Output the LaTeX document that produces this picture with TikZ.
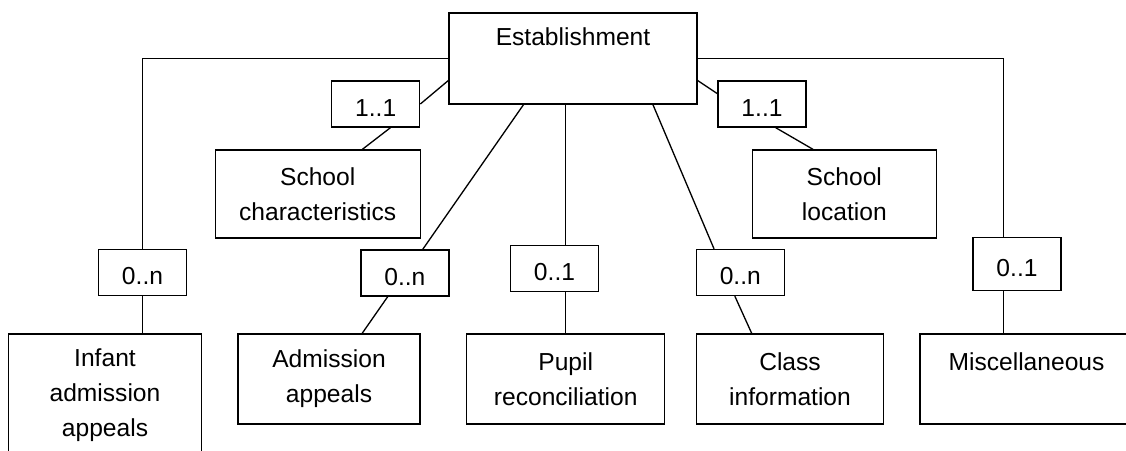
\documentclass[tikz,border=0pt]{standalone}
\usepackage{fontspec}
\setmainfont{Liberation Sans}
\usepackage{xcolor}
\usepackage{tikz}
\usetikzlibrary{shapes,positioning,calc}

\begin{document}
\begin{tikzpicture}[
    x=0.02cm, y=-0.02cm,
    entity/.style={rectangle, draw, line width=0.75pt, align=center, inner sep=0pt, font=\fontsize{14}{19.8}\selectfont},
    mult/.style={rectangle, draw, line width=0.75pt, minimum width=1.76cm, minimum height=0.92cm, inner sep=0pt, text height=14pt, text depth=0pt, font=\fontsize{14}{19.8}\selectfont},
    link/.style={line width=0.75pt}
]
\useasboundingbox (0,0) rectangle (1126,450);

\node[entity, minimum width=4.96cm, minimum height=1.82cm] (est) at (573,58.5) {Establishment\\[5pt]\mbox{}};

\node[entity, minimum width=4.1cm, minimum height=1.76cm] (sc) at (317.7,194) {School\\characteristics};
\node[entity, minimum width=3.68cm, minimum height=1.76cm] (sl) at (844.3,194) {School\\location};

\node[entity, minimum width=3.87cm, minimum height=2.44cm] (inf) at (105,395) {Infant\\admission\\appeals};
\node[entity, minimum width=3.64cm, minimum height=1.8cm] (aa) at (329,379) {Admission\\appeals};
\node[entity, minimum width=3.96cm, minimum height=1.8cm] (pr) at (565.7,379) {Pupil\\reconciliation};
\node[entity, minimum width=3.74cm, minimum height=1.8cm] (ci) at (790,379) {Class\\information};
\node[entity, minimum width=4.26cm, minimum height=1.8cm] (misc) at (1026.5,379) {Miscellaneous\\\mbox{}};

% multiplicities
\node[mult] (m1) at (375.7,104) {1..1};
\node[mult] (m2) at (762,104) {1..1};
\node[mult] (m3) at (142.5,272.5) {0..n};
\node[mult] (m4) at (404.9,273) {0..n};
\node[mult] (m5) at (554.5,268.5) {0..1};
\node[mult] (m6) at (740.3,272.5) {0..n};
\node[mult, minimum height=1.06cm] (m7) at (1017,264.2) {0..1};

\draw[link] (est.west) -| (m3.north);
\draw[link] (m3.south) -- (m3.south |- inf.north);
\draw[link] (est.east) -| (m7.117.8);
\draw[link] (m7.-117.8) -- (m7.-117.8 |- misc.north);

\draw[link] (est.190.7) -- (m1.east);
\draw[link] (m1.-58.1) -- (sc.45);
\draw[link] (est.-10.7) -- (m2.167.7);
\draw[link] (m2.-60.9) -- (sl.125.2);

\draw[link] (est.223.5) -- (m4.53.5);
\draw[link] (m4.234.5) -- (aa.54.7);
\draw[link] (est.south -| pr.north) -- (pr.north |- m5.north);
\draw[link] (pr.north |- m5.south) -- (pr.north);
\draw[link] (est.-30.6) -- (m6.138.4);
\draw[link] (m6.-103.3) -- (ci.130.4);

\end{tikzpicture}
\end{document}
